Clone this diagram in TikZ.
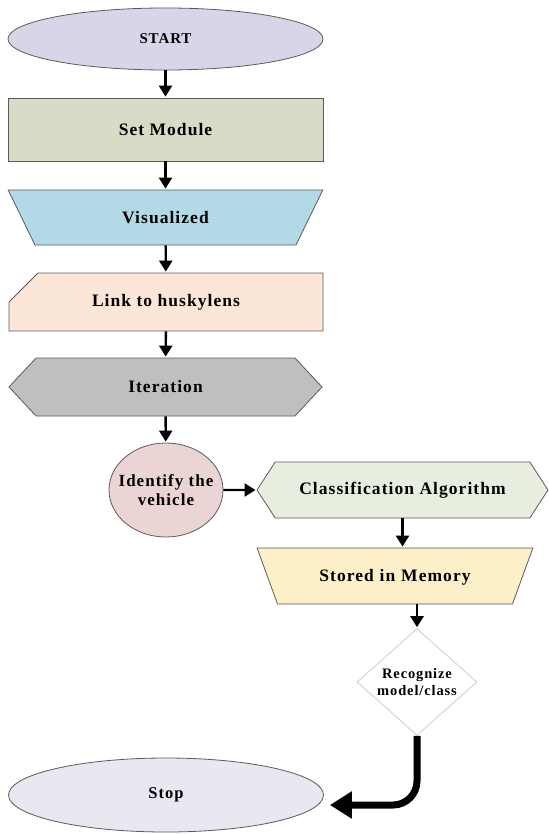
\documentclass[tikz,border=0pt]{standalone}
\usepackage{fontspec}
\setmainfont{Liberation Serif}[LetterSpace=6]
\usetikzlibrary {arrows.meta, shapes.geometric, shapes.symbols, shapes.misc, positioning, calc}

\definecolor{lineG}{HTML}{5A5A5A}
\definecolor{startC}{HTML}{DAD4E8}
\definecolor{setC}{HTML}{D8DCC6}
\definecolor{visC}{HTML}{B2D9E6}
\definecolor{linkC}{HTML}{FCE6D8}
\definecolor{iterC}{HTML}{BFBFBF}
\definecolor{identC}{HTML}{EBD4D4}
\definecolor{clsC}{HTML}{E8EEDF}
\definecolor{storeC}{HTML}{FDF0C8}
\definecolor{decC}{HTML}{DCC8C8}
\definecolor{stopC}{HTML}{E9E8F1}

\tikzset{
	box/.style={draw=lineG, line width=0.8pt, font=\bfseries\fontsize{17.5}{19}\selectfont, align=center, inner sep=0pt},
	trap/.style={box, trapezium, shape border rotate=180, text depth=22pt, text height=33pt},
	arr/.style={-{Triangle[length=11pt, width=13pt]}, line width=2.4pt, shorten >=1pt}
}

\begin{document}
\begin{tikzpicture}[x=1pt, y=-1pt]
	\useasboundingbox (0,0) rectangle (548,834);

	\node[box, ellipse, fill=startC, minimum width=315pt, minimum height=62pt,
		font=\bfseries\fontsize{15}{17}\selectfont] (S) at (165.5,39) {START};
	\node[box, rectangle, fill=setC, minimum width=315pt, minimum height=63pt] (M) at (165.5,129.5) {Set Module};
	\node[trap, trapezium left angle=64, trapezium right angle=64, fill=visC,
		text width=261pt] (V) at (165.5,217.5) {Visualized};
	\node[box, chamfered rectangle, chamfered rectangle corners=north west, chamfered rectangle xsep=26pt,
		chamfered rectangle ysep=21pt, fill=linkC, minimum width=314pt, minimum height=56pt] (L) at (166,302) {Link to huskylens};
	\node[box, signal, signal to=east and west, signal pointer angle=94, fill=iterC,
		minimum width=313pt, minimum height=58pt] (I) at (165.5,387) {Iteration};
	\node[box, ellipse, fill=identC, minimum width=114pt, minimum height=94pt, inner xsep=-10pt,
		font=\bfseries\fontsize{17}{19}\selectfont] (Id) at (166,490) {Identify the\\vehicle};
	\node[box, signal, signal to=east and west, signal pointer angle=114, fill=clsC,
		minimum width=291pt, minimum height=56pt] (C) at (402.5,490) {Classification Algorithm};
	\node[trap, trapezium left angle=70, trapezium right angle=70, fill=storeC,
		text width=235pt, text depth=23pt] (Mem) at (395,576) {Stored in Memory};
	\node[box, diamond, draw=decC, fill=white, minimum width=120pt, minimum height=95pt,
		font=\bfseries\fontsize{14.5}{17}\selectfont] (R) at (417,682) {Recognize\\model/class};
	\node[box, ellipse, fill=stopC, minimum width=315pt, minimum height=74pt,
		font=\bfseries\fontsize{16.5}{18}\selectfont] (E) at (166,795) {Stop};

	\draw[arr] (S) -- (M);
	\draw[arr] (M) -- (V);
	\draw[arr] (V) -- (L);
	\draw[arr] (L) -- (I);
	\draw[arr] (I) -- (Id);
	\draw[arr] (Id) -- (C);
	\draw[arr] (C.south) -- (C.south |- Mem.north);
	\draw[arr] (Mem.south -| R.north) -- (R.north);
	\draw[-{Triangle[length=22pt, width=26pt]}, line width=7pt, rounded corners=24pt, shorten >=6pt]
		(R.south) |- ([yshift=-10pt]E.east);
\end{tikzpicture}
\end{document}
